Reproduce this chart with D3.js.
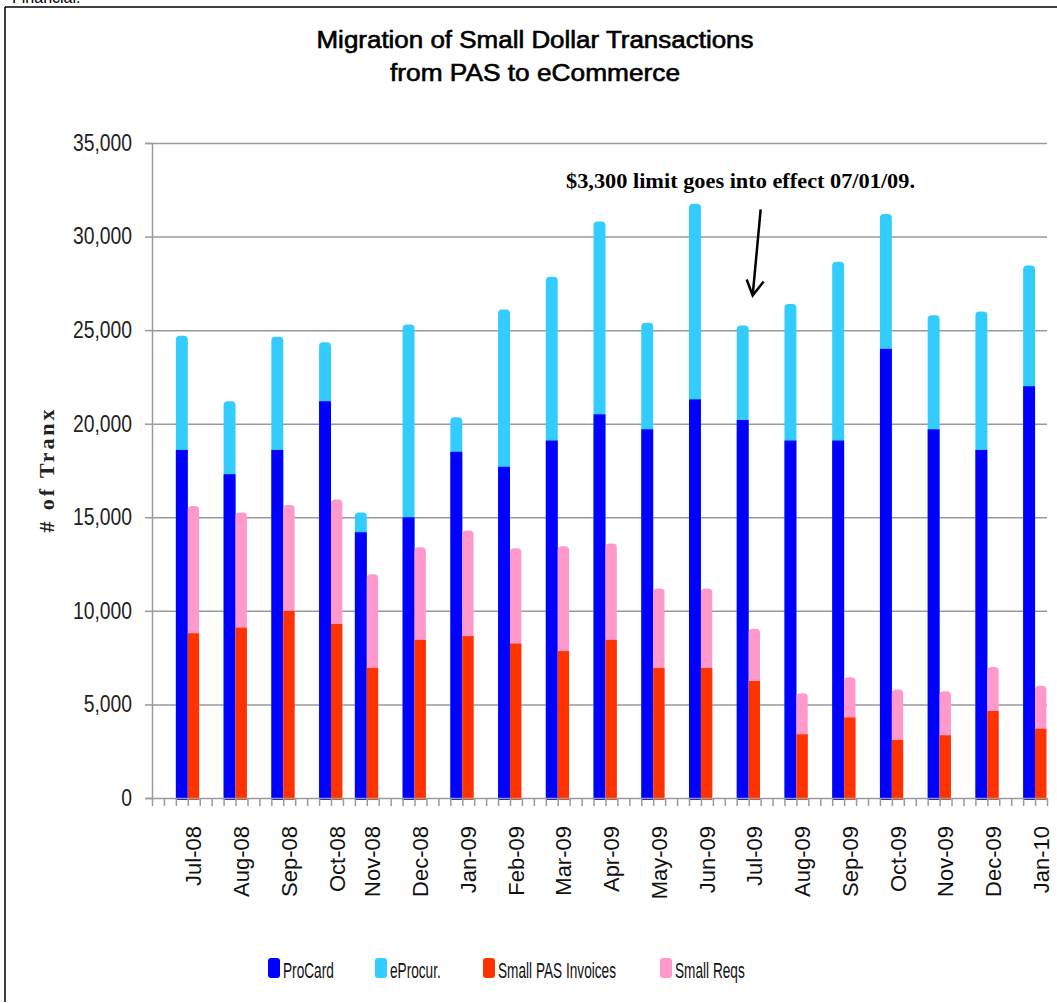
<!DOCTYPE html>
<html>
<head>
<meta charset="utf-8">
<script src="https://cdn.jsdelivr.net/npm/d3@7"></script>
<style>
  body { margin: 0; background: #fff; }
  svg { display: block; font-family: "Liberation Sans", Arial, sans-serif; }
  .grid line { stroke: #9a9a9a; stroke-width: 1.5; }
  .grid path { display: none; }
  .axis path, .axis line { stroke: #9a9a9a; stroke-width: 1.5; }
</style>
</head>
<body>
<script>
"use strict";

// months and the reporting week each one sits on (the x axis is weekly)
var months = ["Jul-08", "Aug-08", "Sep-08", "Oct-08", "Nov-08", "Dec-08", "Jan-09", "Feb-09", "Mar-09",
  "Apr-09", "May-09", "Jun-09", "Jul-09", "Aug-09", "Sep-09", "Oct-09", "Nov-09", "Dec-09", "Jan-10"];
var weekIdx = [0, 4, 8, 12, 15, 19, 23, 27, 31, 35, 39, 43, 47, 51, 55, 59, 63, 67, 71];

// series, # of transactions
var proCard = [18600, 17300, 18600, 21200, 14200, 15000, 18500, 17700, 19100,
  20500, 19700, 21300, 20200, 19100, 19100, 24000, 19700, 18600, 22000];
var eProcur = [6100, 3900, 6050, 3150, 1050, 10300, 1850, 8400, 8750,
  10300, 5700, 10450, 5050, 7300, 9550, 7200, 6100, 7400, 6450];
var smallPAS = [8800, 9100, 10000, 9300, 6950, 8450, 8650, 8250, 7850,
  8450, 6950, 6950, 6250, 3400, 4300, 3100, 3350, 4650, 3700];
var smallReqs = [6800, 6150, 5650, 6650, 5000, 4950, 5650, 5100, 5600,
  5150, 4250, 4250, 2800, 2200, 2150, 2700, 2350, 2350, 2300];

var yTicks = [0, 5000, 10000, 15000, 20000, 25000, 30000, 35000];
var seriesNames = ["ProCard", "eProcur.", "Small PAS Invoices", "Small Reqs"];
var seriesColors = ["#0000ff", "#33ccff", "#ff3300", "#ff99cc"];

var W = 1057, H = 1003;

var svg = d3.select("body").append("svg")
    .attr("width", W)
    .attr("height", H);

// frame (cut off at right/bottom in the original)
svg.append("line").attr("x1", 5).attr("x2", 5).attr("y1", 7).attr("y2", 1002)
    .attr("stroke", "#000").attr("stroke-width", 1.5);
svg.append("line").attr("x1", 5).attr("x2", W).attr("y1", 7).attr("y2", 7)
    .attr("stroke", "#000").attr("stroke-width", 1.5);
svg.append("text").attr("x", 12).attr("y", 3).attr("font-size", 16).text("Financial.");

// scales
var x = d3.scaleLinear().domain([-3, 72]).range([152, 1047]);
var y = d3.scaleLinear().domain([0, 35000]).range([798, 143]);

// squeeze text horizontally like the original (narrow glyphs)
function squeeze(sel, factor) {
  sel.each(function() {
    var len = this.getComputedTextLength();
    d3.select(this).attr("textLength", len * factor).attr("lengthAdjust", "spacingAndGlyphs");
  });
}

// gridlines
svg.append("g")
    .attr("class", "grid")
    .attr("transform", "translate(152,0)")
    .call(d3.axisLeft(y).tickValues(yTicks.slice(1)).tickSizeInner(-(1047 - 152)).tickSizeOuter(0).tickFormat(""));

// bars: blue stack sits in the week before the index, red stack in the week after
var idx = d3.range(months.length);
var plot = svg.append("g");

function stack(cls, x0, x1, bottom, top, cBottom, cTop) {
  var g = plot.selectAll("g." + cls).data(idx).join("g").attr("class", cls);
  g.append("rect")
      .attr("x", function(i) { return x(x0(i)); })
      .attr("width", function(i) { return x(x1(i)) - x(x0(i)); })
      .attr("y", function(i) { return y(bottom[i] + top[i]); })
      .attr("height", function(i) { return y(0) + 2 - y(bottom[i] + top[i]); })
      .attr("rx", 4)
      .attr("fill", cTop);
  g.append("rect")
      .attr("x", function(i) { return x(x0(i)); })
      .attr("width", function(i) { return x(x1(i)) - x(x0(i)); })
      .attr("y", function(i) { return y(bottom[i]); })
      .attr("height", function(i) { return y(0) + 2 - y(bottom[i]); })
      .attr("fill", cBottom);
}
stack("blue", function(i) { return weekIdx[i] - 1; }, function(i) { return weekIdx[i]; },
  proCard, eProcur, seriesColors[0], seriesColors[1]);
stack("red", function(i) { return weekIdx[i]; }, function(i) { return weekIdx[i] + 0.95; },
  smallPAS, smallReqs, seriesColors[2], seriesColors[3]);

// y axis
var gY = svg.append("g")
    .attr("class", "axis")
    .attr("transform", "translate(152,0)")
    .call(d3.axisLeft(y).tickValues(yTicks).tickSize(7).tickPadding(13).tickFormat(d3.format(",")));
gY.selectAll("text").attr("font-size", 23).attr("fill", "#222").attr("font-family", "Liberation Sans, Arial, sans-serif");
squeeze(gY.selectAll("text"), 0.84);

// x axis with weekly ticks
var gX = svg.append("g")
    .attr("class", "axis")
    .attr("transform", "translate(0," + y(0) + ")")
    .call(d3.axisBottom(x).tickValues(d3.range(-3, 73)).tickSize(8).tickSizeOuter(0).tickFormat(""));

svg.append("g").selectAll("text")
    .data(idx)
    .join("text")
    .attr("transform", function(i) { return "translate(" + x(weekIdx[i] + 0.5) + ",826) rotate(-90)"; })
    .attr("text-anchor", "end")
    .attr("dy", "0.35em")
    .attr("font-size", 22)
    .attr("fill", "#111")
    .text(function(i) { return months[i]; });

// y axis title
svg.append("text")
    .attr("transform", "translate(46,471) rotate(-90)")
    .attr("text-anchor", "middle")
    .attr("dy", "0.35em")
    .attr("font-family", "Liberation Serif, Times New Roman, serif")
    .attr("font-weight", "bold")
    .attr("font-size", 22)
    .attr("fill", "#222")
    .attr("textLength", 123)
    .attr("lengthAdjust", "spacing")
    .text("# of Tranx");

// title
var title = svg.append("g").attr("font-size", 23).attr("text-anchor", "middle")
    .attr("stroke", "#000").attr("stroke-width", 0.6);
title.append("text").attr("x", 535).attr("y", 48)
    .attr("textLength", 437).attr("lengthAdjust", "spacingAndGlyphs")
    .text("Migration of Small Dollar Transactions");
title.append("text").attr("x", 535).attr("y", 81)
    .attr("textLength", 290).attr("lengthAdjust", "spacingAndGlyphs")
    .text("from PAS to eCommerce");

// annotation with arrow towards the Jul-09 bar
svg.append("text")
    .attr("x", 566).attr("y", 188)
    .attr("font-family", "Liberation Serif, Times New Roman, serif")
    .attr("font-weight", "bold")
    .attr("font-size", 22)
    .attr("textLength", 349).attr("lengthAdjust", "spacingAndGlyphs")
    .text("$3,300 limit goes into effect 07/01/09.");

var jul = months.indexOf("Jul-09");
var tipX = x(weekIdx[jul]) + 4, tipY = y(proCard[jul] + eProcur[jul]) - 30;
svg.append("path")
    .attr("d", "M" + (tipX + 8) + "," + (tipY - 86) + "L" + tipX + "," + tipY +
      "M" + (tipX - 6) + "," + (tipY - 16) + "L" + tipX + "," + tipY + "L" + (tipX + 11) + "," + (tipY - 14))
    .attr("fill", "none")
    .attr("stroke", "#000")
    .attr("stroke-width", 2.5);

// legend (text narrowed with a scale so its box shrinks too)
var legendX = [268, 375, 483, 660];
var lg = svg.append("g").selectAll("g")
    .data(seriesNames)
    .join("g")
    .attr("transform", function(d, i) { return "translate(" + legendX[i] + ",958)"; });
lg.append("rect")
    .attr("width", 12).attr("height", 20).attr("rx", 3)
    .attr("fill", function(d, i) { return seriesColors[i]; });
lg.append("text")
    .attr("transform", "translate(15,20) scale(0.62,1)")
    .attr("font-size", 22)
    .attr("fill", "#111")
    .text(function(d) { return d; });
</script>
</body>
</html>
